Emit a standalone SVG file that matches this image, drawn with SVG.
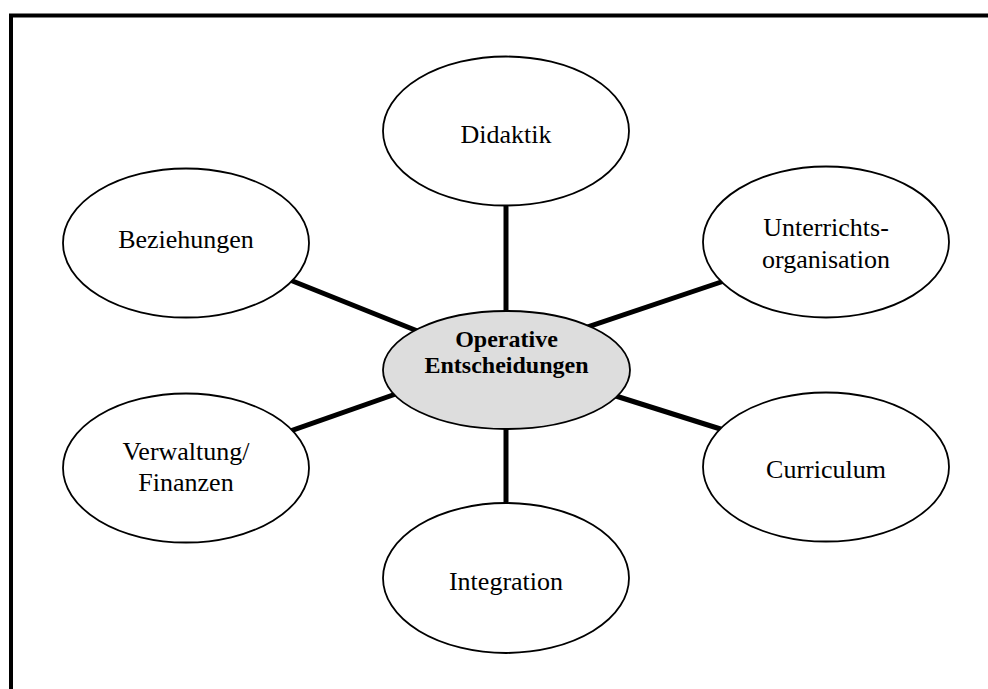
<svg xmlns="http://www.w3.org/2000/svg" width="988" height="689" viewBox="0 0 988 689">
<style>
.node ellipse{fill:#ffffff;stroke:#000000;stroke-width:1.8}
.center ellipse{fill:#dddddd;stroke:#000000;stroke-width:1.8}
text{font-family:"Liberation Serif","Times New Roman",serif;font-size:26px;fill:#000000;text-anchor:middle}
.bold{font-weight:bold;font-size:24px}
.conn line{stroke:#000000;stroke-width:5}
</style>
<rect x="0" y="0" width="988" height="689" fill="#ffffff"/>
<rect x="11" y="15.5" width="1000" height="700" fill="none" stroke="#000000" stroke-width="4"/>
<g id="connectors" class="conn">
<line x1="506" y1="200" x2="506" y2="320"/>
<line x1="506" y1="420" x2="506" y2="510"/>
<line x1="280" y1="276" x2="420" y2="332"/>
<line x1="570" y1="332.8" x2="730" y2="279"/>
<line x1="600" y1="391" x2="730" y2="432"/>
<line x1="280" y1="434.6" x2="410" y2="389"/>
</g>
<g id="didaktik" class="node">
<ellipse cx="506" cy="131" rx="123" ry="74.5"/>
<text x="506" y="143">Didaktik</text>
</g>
<g id="beziehungen" class="node">
<ellipse cx="186" cy="243" rx="123" ry="74.5"/>
<text x="186" y="248">Beziehungen</text>
</g>
<g id="unterrichtsorganisation" class="node">
<ellipse cx="826" cy="242" rx="123" ry="75.5"/>
<text x="826" y="236">Unterrichts-</text>
<text x="826" y="268">organisation</text>
</g>
<g id="curriculum" class="node">
<ellipse cx="826" cy="467" rx="123" ry="74.5"/>
<text x="826" y="478">Curriculum</text>
</g>
<g id="verwaltung" class="node">
<ellipse cx="186" cy="468" rx="123" ry="74.5"/>
<text x="186" y="460">Verwaltung/</text>
<text x="186" y="491">Finanzen</text>
</g>
<g id="integration" class="node">
<ellipse cx="506" cy="578" rx="123" ry="75"/>
<text x="506" y="590">Integration</text>
</g>
<g id="operative" class="center">
<ellipse cx="506.5" cy="370" rx="123.5" ry="59"/>
<text class="bold" x="506.5" y="347">Operative</text>
<text class="bold" x="506.5" y="373">Entscheidungen</text>
</g>
</svg>
